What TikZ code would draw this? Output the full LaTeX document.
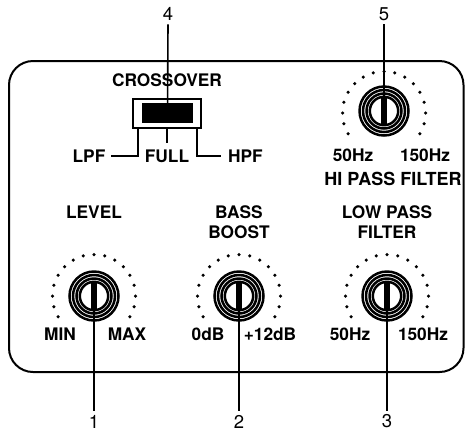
\documentclass[tikz,border=0pt]{standalone}
\usepackage{fontspec}
\setmainfont{TeX Gyre Heros}
\begin{document}
\begin{tikzpicture}[x=1pt,y=-1pt,
  lab/.style={font=\bfseries\fontsize{17.3}{19}\selectfont, inner sep=2pt},
  num/.style={font=\fontsize{18.5}{20}\selectfont, inner sep=3.5pt},
  callout/.style={line width=1.6pt},
  leg/.style={line width=2pt},
  knob/.pic={
    \fill[white] (0,0) circle (26.5pt);
    \foreach \r in {24.5,21.0,17.5,14.2} \draw[line width=2.5pt] (0,0) circle (\r pt);
    \fill (-2.6,-14) rectangle (2.6,14);
  }]
\useasboundingbox (0,0) rectangle (465,432);
% panel
\draw[line width=2pt, rounded corners=24pt] (9,61) rectangle (463.5,372);

% knob centres
\node[coordinate] (k1) at (94,296) {};
\node[coordinate] (k2) at (239,296) {};
\node[coordinate] (k3) at (387,296) {};
\node[coordinate] (k5) at (384,111) {};

% dot arcs
\foreach \c/\dy in {k1/0,k2/0,k3/0,k5/2}{
  \foreach \i in {0,...,16}{
    \fill ([yshift=-\dy pt]\c) ++({-30+15*\i}:41.5pt) circle (1.75pt);
  }
}
% knobs
\pic at (k1) {knob};
\pic at (k2) {knob};
\pic at (k3) {knob};
\pic at (k5) {knob};

% labels
\node[lab] (lvl) at (94,212) {LEVEL};
\node[lab] (bass) at (239,212) {BASS};
\node[lab] (boost) at (239,232) {BOOST};
\node[lab] (lowp) at (387,212) {LOW PASS};
\node[lab] (lowf) at (387,232) {FILTER};
\node[lab] (min) at (60,334) {MIN};
\node[lab] (max) at (127,334) {MAX};
\node[lab] (zdb) at (208,334) {0dB};
\node[lab] (tdb) at (270,334) {+12dB};
\node[lab] (l50) at (350,334) {50Hz};
\node[lab] (l150) at (423,334) {150Hz};
\node[lab] (h50) at (353,155.5) {50Hz};
\node[lab] (h150) at (425,155.5) {150Hz};
\node[lab, font=\bfseries\fontsize{18}{20}\selectfont] (hpft) at (393,179) {HI PASS FILTER};
\node[lab] (cross) at (167,80) {CROSSOVER};
\node[lab] (lpf) at (89,156) {LPF};
\node[lab] (full) at (167,156) {FULL};
\node[lab] (hpf) at (245.5,156) {HPF};

% crossover switch
\node[draw, line width=2pt, minimum width=68pt, minimum height=29pt, inner sep=0pt] (swo) at (167,113.5) {};
\node[fill, minimum width=51pt, minimum height=20.5pt, inner sep=0pt] (swi) at (167.5,113) {};
\draw[leg] ([xshift=5.5pt]swo.south west) |- ([xshift=3pt]lpf.east);
\draw[leg] (swo.south) -- ++(0,14);
\draw[leg] ([xshift=-5pt]swo.south east) |- ([xshift=-5pt]hpf.west);

% callout numbers
\node[num] (n4) at (168,14) {4};
\node[num] (n5) at (384,14) {5};
\node[num] (n1) at (94,421.5) {1};
\node[num] (n2) at (239,421.5) {2};
\node[num] (n3) at (387,421.5) {3};
\draw[callout] (n4.south) -- (swi.center);
\draw[callout] (n5.south) -- (k5);
\draw[callout] (k1) -- (n1.north);
\draw[callout] (k2) -- (n2.north);
\draw[callout] (k3) -- (n3.north);
\end{tikzpicture}
\end{document}
